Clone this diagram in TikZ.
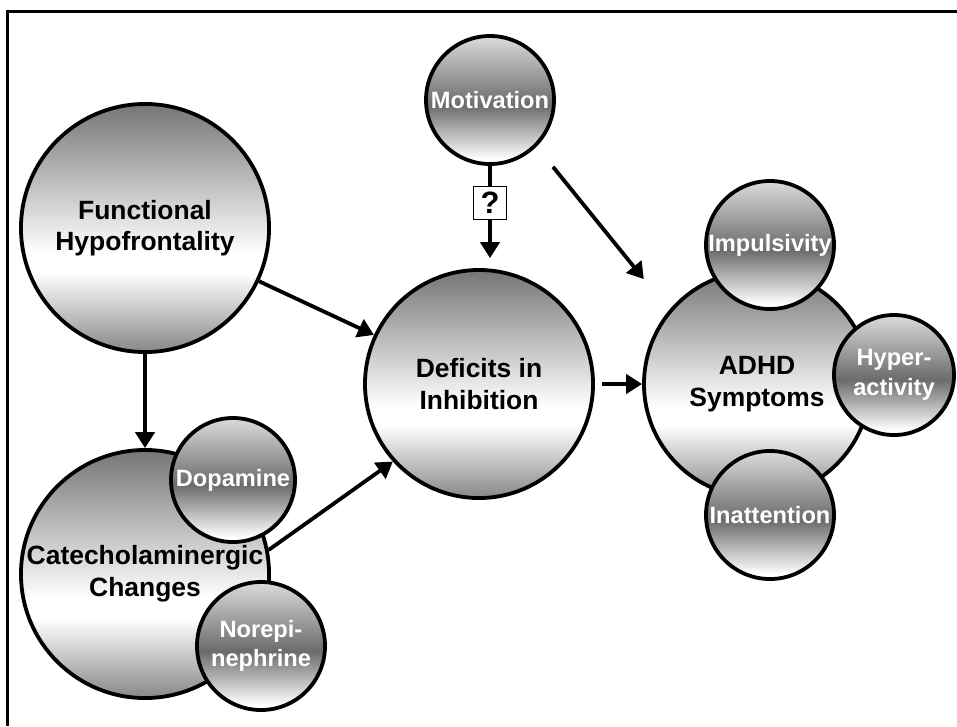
\documentclass[tikz,border=0pt]{standalone}
\usepackage{fontspec}
\setmainfont{Liberation Sans}
\usepackage{xcolor}
\usetikzlibrary{arrows.meta}

\colorlet{balltop}{black!54}
\colorlet{ballbot}{black!47}
\colorlet{knobmid}{black!58}
\colorlet{knobtop}{black!14}
\pgfdeclareverticalshading{bigball}{100bp}{color(0bp)=(ballbot); color(25bp)=(ballbot); color(41bp)=(white); color(45bp)=(white); color(75bp)=(balltop); color(100bp)=(balltop)}
\pgfdeclareverticalshading{smallball}{100bp}{color(0bp)=(white); color(27bp)=(white); color(48bp)=(knobmid); color(75bp)=(knobtop); color(100bp)=(knobtop)}

\begin{document}
\begin{tikzpicture}[x=0.025cm, y=-0.025cm, >={Triangle[length=4mm,width=4.8mm]},
                line width=2.7pt,
                big node/.style={circle,draw,inner sep=0pt,shading=bigball,align=center,
                  font=\bfseries\fontsize{18.8}{22.5}\selectfont},
                small node/.style={circle,draw,inner sep=0pt,shading=smallball,align=center,
                  text=white,minimum size=3.2cm,font=\bfseries\fontsize{16.8}{21}\selectfont},
                ask node/.style={rectangle,draw,line width=0.8pt,fill=white,inner sep=0pt,
                  minimum size=0.82cm,font=\bfseries\fontsize{22}{24}\selectfont}]

  \useasboundingbox (0,0) rectangle (957,726);
  \draw (7.5,726) -- (7.5,11.5) -- (957,11.5);

  \node[big node, minimum size=6.2cm] (hypo) at (145,228) {Functional\\Hypofrontality};
  \node[big node, minimum size=6.2cm] (catechol) at (145,574) {Catecholaminergic\\Changes};
  \node[big node, minimum size=5.7cm] (deficit) at (479,384) {Deficits in\\Inhibition};
  \node[big node, minimum size=5.65cm] (adhd) at (757,384) {ADHD\\Symptoms};

  \node[small node] (motiv) at (490,100) {Motivation};
  \node[small node, minimum size=3.1cm] (dopa) at (233,480) {Dopamine};
  \node[small node] (norepi) at (261,646) {Norepi-\\nephrine};
  \node[small node] (impuls) at (770,245) {Impulsivity};
  \node[small node, minimum size=3.0cm] (hyper) at (894,375) {Hyper-\\activity};
  \node[small node] (inatt) at (770,515) {Inattention};
  \node[ask node] (ask) at (490,203) {?};

  \path[->]
    (hypo) edge (deficit)
           edge (catechol)
    (catechol.11) edge (deficit.222)
    (deficit) edge [shorten <=0.18cm] (adhd)
    (motiv.-45) edge [shorten <=0.65cm, shorten >=1cm] (adhd.140)
    (motiv) edge [-] (ask)
    (ask) edge [shorten >=0.25cm] (ask |- deficit.north);
\end{tikzpicture}
\end{document}
